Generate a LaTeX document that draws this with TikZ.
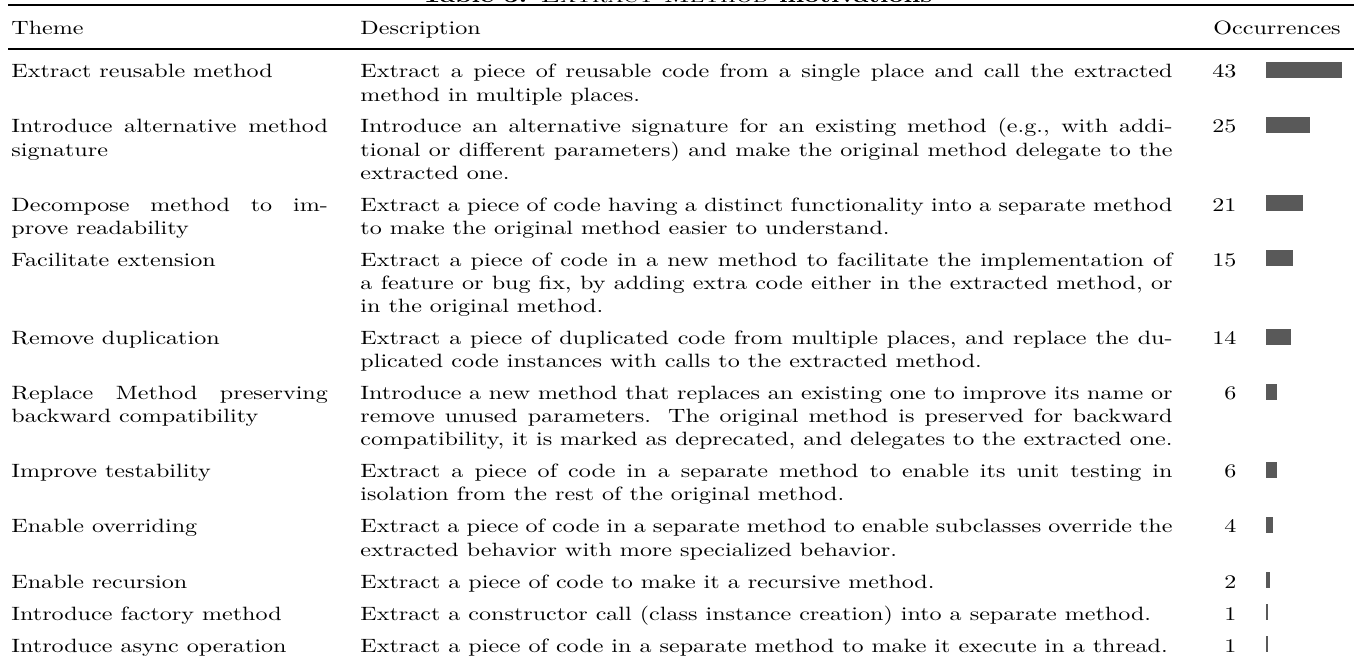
\documentclass[tikz,border=0pt]{standalone}

\definecolor{bargray}{RGB}{89,89,89}

\begin{document}
\begin{tikzpicture}[x=0.5195pt,y=-0.5195pt,
    every node/.style={inner sep=0pt,font=\fontsize{10}{12}\selectfont,xscale=1.25},
    themecell/.style={anchor=base west,text width=131.5pt,align=justify},
    desccell/.style={anchor=base west,text width=337.5pt,align=justify},
    occcell/.style={anchor=base east},
    occbar/.style={fill=bargray}]
    \useasboundingbox (0,0) rectangle (1354,662);
    % caption sits above the page edge, only its foot shows
    \node[anchor=base,font=\fontsize{10.9}{13}\selectfont\bfseries] (caption) at (677,3)
        {Table 3: {\mdseries\scshape Extract Method} motivations};
    % rules
    \draw[line width=1.2pt] (8,5) -- (1354,5);
    \draw[line width=0.7pt] (8,49) -- (1354,49);
    % header
    \node[anchor=base west] (hdtheme) at (11,35) {Theme};
    \node[anchor=base west] (hddesc) at (360,35) {Description};
    \node[anchor=base west] (hdocc) at (1213,35) {Occurrences};
    % rows: baseline / theme / description / occurrences
    \foreach \y/\th/\de/\n [count=\i] in {
        78/{Extract reusable method}/{Extract a piece of reusable code from a single place and call the extracted\linebreak method in multiple places.}/43,
        133/{Introduce alternative method\linebreak signature}/{Introduce an alternative signature for an existing method (e.g., with addi-\linebreak tional or different parameters) and make the original method delegate to the\linebreak extracted one.}/25,
        211.3/{Decompose method to im-\linebreak prove readability}/{Extract a piece of code having a distinct functionality into a separate method\linebreak to make the original method easier to understand.}/21,
        266.4/{Facilitate extension}/{Extract a piece of code in a new method to facilitate the implementation of\linebreak a feature or bug fix, by adding extra code either in the extracted method, or\linebreak in the original method.}/15,
        344.6/{Remove duplication}/{Extract a piece of duplicated code from multiple places, and replace the du-\linebreak plicated code instances with calls to the extracted method.}/14,
        399.7/{Replace Method preserving\linebreak backward compatibility}/{Introduce a new method that replaces an existing one to improve its name or\linebreak remove unused parameters. The original method is preserved for backward\linebreak compatibility, it is marked as deprecated, and delegates to the extracted one.}/6,
        477.9/{Improve testability}/{Extract a piece of code in a separate method to enable its unit testing in\linebreak isolation from the rest of the original method.}/6,
        533/{Enable overriding}/{Extract a piece of code in a separate method to enable subclasses override the\linebreak extracted behavior with more specialized behavior.}/4,
        588.1/{Enable recursion}/{Extract a piece of code to make it a recursive method.}/2,
        620.1/{Introduce factory method}/{Extract a constructor call (class instance creation) into a separate method.}/1,
        652.1/{Introduce async operation}/{Extract a piece of code in a separate method to make it execute in a thread.}/1} {
        \node[themecell] (theme\i) at (11,\y) {\th};
        \node[desccell] (desc\i) at (360,\y) {\de};
        \node[occcell] (occ\i) at (1237,\y) {\n};
        \fill[occbar] (1266,\y) rectangle ++(1.77*\n,-16);
    }
\end{tikzpicture}
\end{document}
